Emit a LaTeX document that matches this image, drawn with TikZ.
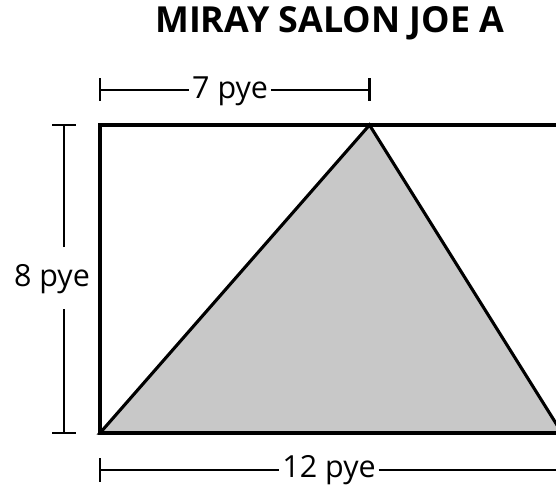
\documentclass[tikz,border=0pt]{standalone}
\usepackage{fontspec}
\setmainfont{Open Sans}
\usepackage{xcolor}
\usepackage{tikz}
\definecolor{shade}{RGB}{200,200,200}
\tikzset{dimline/.style={line width=1.5pt},
         dimlabel/.style={inner xsep=2pt,inner ysep=0pt,yshift=-0.04cm,font=\fontsize{22.5}{26}\selectfont}}

\begin{document}
\begin{tikzpicture}
        \useasboundingbox (-2.597,-1.351) rectangle (11.844,11.247);
        \node[font=\fontsize{26.5}{31}\selectfont\bfseries] (title) at (5.97,10.64) {MIRAY SALON JOE A};
        % rectangle and triangle
        \coordinate (A) at (0,0);
        \coordinate (B) at (12,0);
        \coordinate (C) at (12,8);
        \coordinate (D) at (0,8);
        \coordinate (T) at (7,8);
        \filldraw[fill=shade,line width=2.3pt,line join=miter] (A) -- (T) -- (B) -- cycle;
        \draw[line width=2.3pt] (A) rectangle (C);
        % top dimension
        \coordinate (t1) at (0,8.92);
        \coordinate (t2) at (7,8.92);
        \node[dimlabel] (seven) at (3.38,8.92) {7 pye};
        \draw[dimline] (t1) -- (seven.west |- t1) (seven.east |- t2) -- (t2);
        \draw[dimline] ([yshift=-0.29cm]t1) -- ([yshift=0.29cm]t1);
        \draw[dimline] ([yshift=-0.29cm]t2) -- ([yshift=0.29cm]t2);
        % left dimension
        \coordinate (l1) at (-0.935,0);
        \coordinate (l2) at (-0.935,8);
        \coordinate (g1) at (-0.935,3.22);
        \coordinate (g2) at (-0.935,4.83);
        \node[dimlabel] (eight) at (-1.247,4.03) {8 pye};
        \draw[dimline] (l1) -- (g1) (g2) -- (l2);
        \draw[dimline] ([xshift=-0.31cm]l1) -- ([xshift=0.31cm]l1);
        \draw[dimline] ([xshift=-0.31cm]l2) -- ([xshift=0.31cm]l2);
        % bottom dimension
        \coordinate (b1) at (0,-0.96);
        \coordinate (b2) at (12,-0.96);
        \node[dimlabel] (twelve) at (5.95,-0.93) {12 pye};
        \draw[dimline] (b1) -- (twelve.west |- b1) (twelve.east |- b2) -- (b2);
        \draw[dimline] ([yshift=-0.31cm]b1) -- ([yshift=0.31cm]b1);
        \draw[dimline] ([yshift=-0.31cm]b2) -- ([yshift=0.31cm]b2);
\end{tikzpicture}
\end{document}
